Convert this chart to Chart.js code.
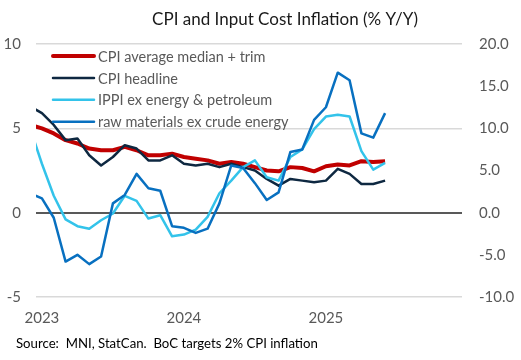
<!DOCTYPE html>
<html>
<head>
<meta charset="utf-8">
<script src="https://cdn.jsdelivr.net/npm/chart.js@4.4.1/dist/chart.umd.min.js"></script>
<style>
  html, body { margin: 0; padding: 0; background: #fff; }
  #wrap { width: 521px; height: 360px; }
</style>
</head>
<body>
<div id="wrap"><canvas id="chart" width="521" height="360"></canvas></div>
<script>
// monthly, Dec 2022 .. Jun 2025 (Dec 2022 falls just left of the axis and gets clipped)
const months = [
    "2022-12",
    "2023-01", "2023-02", "2023-03", "2023-04", "2023-05", "2023-06",
    "2023-07", "2023-08", "2023-09", "2023-10", "2023-11", "2023-12",
    "2024-01", "2024-02", "2024-03", "2024-04", "2024-05", "2024-06",
    "2024-07", "2024-08", "2024-09", "2024-10", "2024-11", "2024-12",
    "2025-01", "2025-02", "2025-03", "2025-04", "2025-05", "2025-06"
];
const yearLabels = ["2023", "2024", "2025"];

// left axis (%)
const cpiTrimMedian = [5.2, 5.0, 4.7, 4.3, 4.1, 3.8, 3.7, 3.7, 3.9, 3.7, 3.4, 3.4, 3.5, 3.3, 3.2, 3.1,
    2.9, 3.0, 2.9, 2.7, 2.5, 2.45, 2.7, 2.65, 2.45, 2.75, 2.85, 2.8, 3.05, 3.0, 3.05];
const cpiHeadline = [6.3, 5.9, 5.2, 4.3, 4.4, 3.4, 2.8, 3.3, 4.0, 3.8, 3.1, 3.1, 3.4, 2.9, 2.8, 2.9,
    2.7, 2.9, 2.7, 2.5, 2.0, 1.6, 2.0, 1.9, 1.8, 1.9, 2.6, 2.3, 1.7, 1.7, 1.9];

// right axis (%)
const ippiExEnergy = [10.0, 5.8, 2.0, -0.8, -1.6, -1.9, -0.9, -0.1, 2.0, 1.4, -0.7, -0.3, -2.8, -2.6, -2.0, -0.5,
    2.3, 3.8, 5.4, 6.2, 4.2, 3.8, 6.6, 7.5, 9.9, 11.4, 11.6, 11.4, 7.3, 5.1, 5.9];
const rawExCrude = [2.3, 1.7, -0.6, -5.8, -5.0, -6.1, -5.2, 1.1, 2.1, 4.6, 2.9, 2.6, -1.6, -1.8, -2.4, -1.9,
    1.1, 5.6, 5.3, 3.5, 1.5, 2.4, 7.2, 7.5, 11.0, 12.5, 16.6, 15.7, 9.4, 8.9, 11.8];

const leftTicks = [-5, 0, 5, 10];
const rightTicks = [-10, -5, 0, 5, 10, 15, 20];

const FONT = "Lato, 'Open Sans', sans-serif";
const GREY = "#595959";

function toPoints(values) {
    return values.map((v, i) => ({ x: i, y: v }));
}

// which month index each year label sits on (its January)
const yearTickIdx = yearLabels.map(y => months.indexOf(y + "-01"));

const series = [
    { label: "CPI average median + trim", data: cpiTrimMedian, color: "#C00000", width: 4, axis: "y", order: 4 },
    { label: "CPI headline", data: cpiHeadline, color: "#0E2841", width: 2.5, axis: "y", order: 3 },
    { label: "IPPI ex energy & petroleum", data: ippiExEnergy, color: "#33C3EA", width: 2.5, axis: "y1", order: 2 },
    { label: "raw materials ex crude energy", data: rawExCrude, color: "#0870C0", width: 2.5, axis: "y1", order: 1 }
];

// legend drawn inside the plot, top left
const insideLegend = {
    id: "insideLegend",
    afterDraw(chart) {
        const ctx = chart.ctx;
        ctx.save();
        ctx.font = "14.5px " + FONT;
        ctx.textBaseline = "middle";
        ctx.textAlign = "left";
        series.forEach((s, i) => {
            const y = 56 + i * 21.9;
            ctx.strokeStyle = s.color;
            ctx.lineWidth = s.width;
            ctx.lineCap = "round";
            ctx.beginPath();
            ctx.moveTo(53, y);
            ctx.lineTo(94, y);
            ctx.stroke();
            ctx.fillStyle = GREY;
            ctx.fillText(s.label, 98, y + 1);
        });
        ctx.restore();
    }
};

const headerFooter = {
    id: "headerFooter",
    afterDraw(chart) {
        const ctx = chart.ctx;
        ctx.save();
        ctx.textBaseline = "middle";
        ctx.fillStyle = "#1a1a1a";
        ctx.font = "17px " + FONT;
        ctx.textAlign = "center";
        ctx.fillText("CPI and Input Cost Inflation (% Y/Y)", 285, 20);
        ctx.fillStyle = "#000";
        ctx.font = "13.2px " + FONT;
        ctx.textAlign = "left";
        ctx.fillText("Source:  MNI, StatCan.  BoC targets 2% CPI inflation", 16, 344);
        ctx.restore();
    }
};

new Chart(document.getElementById("chart"), {
    type: "line",
    data: {
        datasets: series.map(s => ({
            label: s.label,
            data: toPoints(s.data),
            yAxisID: s.axis,
            borderColor: s.color,
            backgroundColor: s.color,
            borderWidth: s.width,
            pointRadius: 0,
            tension: 0,
            borderJoinStyle: "round",
            order: s.order,
            clip: 0
        }))
    },
    options: {
        responsive: false,
        animation: false,
        layout: { padding: { top: 44, bottom: 23, left: 0, right: 0 } },
        plugins: {
            legend: { display: false },
            tooltip: { enabled: false }
        },
        scales: {
            x: {
                type: "linear",
                min: 0.5,
                max: 36.5,
                grid: { display: false },
                border: { display: false },
                afterBuildTicks: axis => {
                    axis.ticks = yearTickIdx.map(v => ({ value: v }));
                },
                afterFit: axis => { axis.height = 40; },
                ticks: {
                    autoSkip: false,
                    maxRotation: 0,
                    padding: 4,
                    color: GREY,
                    font: { family: FONT, size: 15 },
                    callback: v => yearLabels[yearTickIdx.indexOf(v)]
                }
            },
            y: {
                position: "left",
                min: -5,
                max: 10,
                afterBuildTicks: axis => {
                    axis.ticks = leftTicks.map(v => ({ value: v }));
                },
                afterFit: axis => { axis.width = 36; },
                border: { display: false },
                grid: {
                    drawTicks: false,
                    color: c => c.tick.value === 0 ? "#595959" : "#D9D9D9",
                    lineWidth: c => c.tick.value === 0 ? 2 : 1.5
                },
                ticks: {
                    padding: 15,
                    color: GREY,
                    font: { family: FONT, size: 15 }
                }
            },
            y1: {
                position: "right",
                min: -10,
                max: 20,
                afterBuildTicks: axis => {
                    axis.ticks = rightTicks.map(v => ({ value: v }));
                },
                afterFit: axis => { axis.width = 59; },
                border: { display: false },
                grid: { display: false, drawTicks: false },
                ticks: {
                    padding: 17,
                    color: GREY,
                    font: { family: FONT, size: 15 },
                    callback: v => v.toFixed(1)
                }
            }
        }
    },
    plugins: [insideLegend, headerFooter]
});
</script>
</body>
</html>
